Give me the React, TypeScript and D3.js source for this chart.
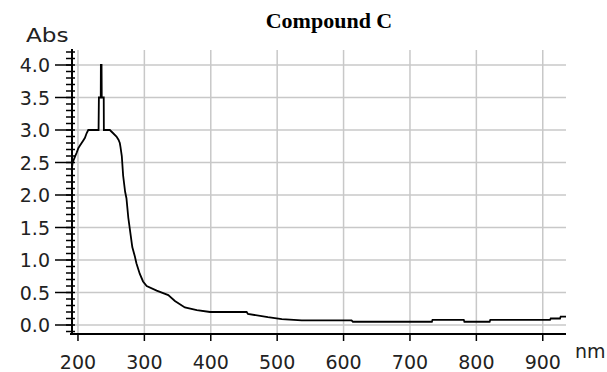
import React from "react";
import * as d3 from "d3";

const wavelengths = [
  190.5, 192, 195.5, 198, 200.5, 203, 205.5, 208, 210.5, 213, 215.5, 231, 231.5, 234.3, 234.5, 235.5,
  235.8, 238.8, 239, 248, 253, 258, 261, 263, 264, 266, 268, 271, 273, 275.8, 279.4, 281.8, 285.8,
  288, 293, 298, 303.5, 318.5, 336, 346, 361, 379, 399, 454, 456, 486, 507, 537, 612, 614, 733, 734,
  781, 782, 820, 821, 911, 912, 926, 927, 935,
];
const absorbance = [
  2.38, 2.5, 2.59, 2.65, 2.72, 2.76, 2.8, 2.84, 2.88, 2.95, 3.0, 3.0, 3.5, 3.5, 4.0, 4.0,
  3.5, 3.5, 3.0, 3.0, 2.95, 2.9, 2.85, 2.8, 2.74, 2.6, 2.3, 2.05, 1.95, 1.65, 1.38, 1.2, 1.05,
  0.95, 0.79, 0.67, 0.6, 0.53, 0.46, 0.37, 0.27, 0.23, 0.2, 0.2, 0.17, 0.12, 0.09, 0.07, 0.07, 0.05, 0.05, 0.08,
  0.08, 0.05, 0.05, 0.08, 0.08, 0.1, 0.1, 0.13, 0.13,
];
const xTicks = [200, 300, 400, 500, 600, 700, 800, 900];
const yTicks = [0, 0.5, 1, 1.5, 2, 2.5, 3, 3.5, 4];
const yMinorTicks = d3.range(-1, 43).map((i) => i / 10);
const title = "Compound C";
const yLabel = "Abs";
const xLabel = "nm";

export default function App() {
  const left = 72;
  const right = 566;
  const top = 50;
  const bottom = 334;
  const x = d3.scaleLinear().domain([191, 935]).range([left, right]);
  const y = d3.scaleLinear().domain([0, 4]).range([325, 65]);
  const data = wavelengths.map((w, i) => [w, absorbance[i]] as [number, number]);
  const line = d3
    .line<[number, number]>()
    .x((d) => x(d[0]))
    .y((d) => y(d[1]));
  const font = "DejaVu Sans, sans-serif";
  return (
    <svg
      width={607}
      height={372}
      style={{ position: "absolute", left: 0, top: 0, background: "#fff" }}
    >
      <rect x={0} y={0} width={607} height={372} fill="#fff" />
      {xTicks.map((t) => (
        <line key={"gx" + t} x1={x(t)} x2={x(t)} y1={top} y2={bottom} stroke="#c8c8c8" strokeWidth={1.5} />
      ))}
      {yTicks.map((t) => (
        <line key={"gy" + t} x1={left} x2={right} y1={y(t)} y2={y(t)} stroke="#c8c8c8" strokeWidth={1.5} />
      ))}
      <path d={line(data) || ""} fill="none" stroke="#000" strokeWidth={1.8} strokeLinejoin="miter" />
      <line x1={left} x2={left} y1={top - 1} y2={bottom + 1} stroke="#000" strokeWidth={2} />
      <line x1={left - 2} x2={right} y1={bottom} y2={bottom} stroke="#000" strokeWidth={2} />
      {yMinorTicks.map((t) => (
        <line key={"ym" + t} x1={left - 6} x2={left + 3} y1={y(t)} y2={y(t)} stroke="#000" strokeWidth={1.5} />
      ))}
      {yTicks.map((t) => (
        <g key={"yt" + t}>
          <line x1={left - 17} x2={left} y1={y(t)} y2={y(t)} stroke="#000" strokeWidth={1.5} />
          <text
            x={50}
            y={y(t)}
            textAnchor="end"
            dominantBaseline="central"
            fontFamily={font}
            fontSize={19}
            fill="#222"
          >
            {t.toFixed(1)}
          </text>
        </g>
      ))}
      {xTicks.map((t) => (
        <g key={"xt" + t}>
          <line x1={x(t)} x2={x(t)} y1={bottom} y2={bottom + 7} stroke="#000" strokeWidth={1.5} />
          <text x={x(t)} y={369} textAnchor="middle" fontFamily={font} fontSize={19} fill="#222">
            {t}
          </text>
        </g>
      ))}
      <text
        x={0}
        y={0}
        transform="translate(26,42) scale(1.22,1)"
        fontFamily={font}
        fontSize={19}
        fill="#222"
      >
        {yLabel}
      </text>
      <text x={575} y={358} fontFamily={font} fontSize={19} fill="#222">
        {xLabel}
      </text>
      <text
        x={329}
        y={28}
        textAnchor="middle"
        fontFamily="Liberation Serif, serif"
        fontWeight="bold"
        fontSize={22}
        fill="#000"
      >
        {title}
      </text>
    </svg>
  );
}
